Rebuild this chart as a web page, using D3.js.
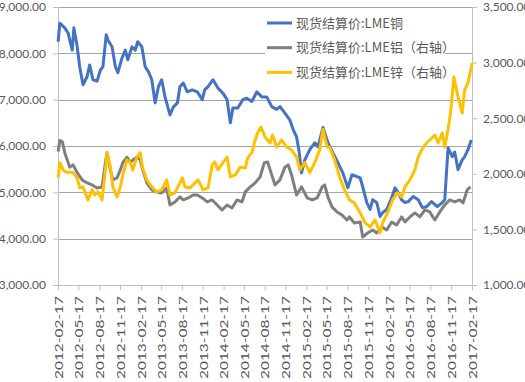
<!DOCTYPE html>
<html>
<meta charset="utf-8">

<!-- Load d3.js -->
<script src="https://d3js.org/d3.v7.min.js"></script>
<style>
  body { margin: 0; background: #fff; }
  text { font-family: Lato, "Noto Sans CJK SC", sans-serif; fill: #595959; }
  .axis text { font-size: 12px; }
  .legend text { font-family: "Noto Sans CJK SC", sans-serif; font-size: 13px; }
</style>
<body>
<!-- Create a div where the graph will take place -->
<div id="my_dataviz"></div>

<script>

// copper, left axis (dates as decimal years)
var copperT = [2012.13,2012.15,2012.21,2012.25,2012.30,2012.32,2012.36,2012.39,2012.43,2012.48,
  2012.51,2012.55,2012.60,2012.64,2012.67,2012.71,2012.73,2012.78,2012.82,2012.85,
  2012.90,2012.94,2012.97,2013.02,2013.06,2013.09,2013.14,2013.18,2013.22,2013.26,
  2013.30,2013.34,2013.38,2013.42,2013.48,2013.52,2013.57,2013.60,2013.64,2013.69,
  2013.75,2013.81,2013.87,2013.90,2013.94,2014.00,2014.06,2014.12,2014.17,2014.21,
  2014.24,2014.30,2014.36,2014.41,2014.47,2014.53,2014.59,2014.65,2014.71,2014.77,
  2014.81,2014.87,2014.93,2014.97,2015.01,2015.04,2015.07,2015.11,2015.17,2015.23,
  2015.27,2015.33,2015.39,2015.45,2015.51,2015.57,2015.63,2015.68,2015.74,2015.78,
  2015.81,2015.86,2015.90,2015.93,2015.98,2016.02,2016.05,2016.10,2016.16,2016.20,
  2016.24,2016.28,2016.32,2016.36,2016.42,2016.48,2016.53,2016.58,2016.64,2016.71,
  2016.77,2016.80,2016.84,2016.89,2016.92,2016.96,2017.01,2017.04,2017.08,2017.12];
var copperV = [8250,8650,8550,8440,8070,8550,8140,7710,7320,7500,
  7750,7430,7400,7640,7710,8400,8290,8140,7710,7580,
  7900,8070,7860,8140,8070,8250,8140,7710,7600,7430,
  6930,7280,7430,7060,6670,6840,6930,7280,7360,7170,
  7210,7170,7000,7210,7280,7430,7250,7140,7000,6500,
  6820,6820,7000,7030,6960,7170,7060,7060,6850,6790,
  6850,6710,6560,6350,6200,5900,5420,5700,5920,6070,
  5980,6400,6070,5850,5640,5420,5100,5380,5340,5310,
  5120,4780,4630,4840,4780,4480,4560,4630,4880,5100,
  4990,4840,4780,4800,4910,4840,4670,4690,4800,4690,
  4780,4840,5960,5770,5870,5490,5700,5770,5920,6130];

// aluminium, right axis
var aluT = [2012.13,2012.15,2012.18,2012.21,2012.27,2012.31,2012.36,2012.42,2012.48,2012.54,
  2012.60,2012.66,2012.70,2012.72,2012.76,2012.79,2012.84,2012.88,2012.91,2012.96,
  2013.00,2013.03,2013.08,2013.12,2013.15,2013.20,2013.26,2013.32,2013.38,2013.44,
  2013.48,2013.54,2013.60,2013.64,2013.70,2013.76,2013.81,2013.87,2013.93,2013.99,
  2014.05,2014.11,2014.17,2014.23,2014.29,2014.35,2014.39,2014.45,2014.51,2014.57,
  2014.62,2014.66,2014.71,2014.75,2014.81,2014.87,2014.91,2014.95,2015.01,2015.07,
  2015.14,2015.20,2015.26,2015.32,2015.35,2015.39,2015.44,2015.50,2015.56,2015.62,
  2015.65,2015.71,2015.78,2015.81,2015.87,2015.93,2015.98,2016.04,2016.10,2016.16,
  2016.22,2016.28,2016.32,2016.38,2016.44,2016.50,2016.56,2016.62,2016.68,2016.74,
  2016.80,2016.86,2016.92,2016.98,2017.02,2017.07,2017.11];
var aluV = [2200,2300,2290,2190,2060,2080,2010,1945,1918,1900,
  1873,1882,2100,2190,2035,1945,1963,2035,2100,2150,
  2100,2125,2150,2125,2035,1918,1855,1837,1828,1873,
  1720,1747,1792,1765,1783,1810,1810,1783,1747,1765,
  1720,1675,1720,1693,1765,1747,1837,1882,1918,1972,
  2100,2107,1990,1900,1945,2060,2080,1990,1810,1882,
  1783,1765,1783,1882,1900,1790,1700,1657,1630,1585,
  1612,1558,1567,1432,1468,1495,1468,1522,1495,1567,
  1540,1612,1567,1612,1648,1612,1675,1657,1585,1657,
  1720,1765,1747,1765,1738,1855,1882];

// zinc, right axis
var zincT = [2012.13,2012.15,2012.19,2012.24,2012.27,2012.31,2012.36,2012.39,2012.43,2012.49,
  2012.54,2012.57,2012.61,2012.66,2012.70,2012.72,2012.76,2012.79,2012.84,2012.88,
  2012.91,2012.96,2013.00,2013.03,2013.08,2013.12,2013.15,2013.20,2013.26,2013.32,
  2013.38,2013.44,2013.48,2013.54,2013.63,2013.66,2013.72,2013.76,2013.82,2013.88,
  2013.94,2013.99,2014.02,2014.06,2014.12,2014.17,2014.21,2014.27,2014.33,2014.39,
  2014.42,2014.47,2014.51,2014.54,2014.58,2014.63,2014.69,2014.72,2014.77,2014.83,
  2014.89,2014.95,2015.01,2015.05,2015.11,2015.17,2015.23,2015.29,2015.33,2015.38,
  2015.41,2015.47,2015.53,2015.59,2015.65,2015.71,2015.78,2015.84,2015.90,2015.96,
  2016.02,2016.05,2016.11,2016.17,2016.23,2016.28,2016.32,2016.38,2016.44,2016.48,
  2016.52,2016.58,2016.62,2016.68,2016.72,2016.77,2016.80,2016.84,2016.87,2016.91,
  2016.96,2017.01,2017.04,2017.08,2017.13];
var zincV = [1963,2100,2035,2010,2017,2010,1963,1873,1882,1765,
  1855,1810,1837,1765,2035,2190,2060,1882,1792,1882,
  1990,2125,2100,2035,2150,2190,2053,1945,1882,1837,
  1855,1945,1810,1828,1963,1882,1873,1900,1945,1855,
  1873,2080,2107,2035,2100,2150,1972,1990,2060,2053,
  2143,2190,2304,2367,2421,2331,2277,2349,2241,2304,
  2241,2214,2150,2035,2100,2010,2100,2214,2400,2241,
  2241,2125,1972,1855,1765,1738,1648,1558,1522,1585,
  1468,1558,1648,1765,1828,1792,1882,1945,2035,2150,
  2214,2277,2304,2349,2277,2367,2241,2400,2550,2870,
  2690,2547,2754,2817,2996];

var tickLabels = ["2012-02-17","2012-05-17","2012-08-17","2012-11-17","2013-02-17","2013-05-17",
  "2013-08-17","2013-11-17","2014-02-17","2014-05-17","2014-08-17","2014-11-17","2015-02-17",
  "2015-05-17","2015-08-17","2015-11-17","2016-02-17","2016-05-17","2016-08-17","2016-11-17",
  "2017-02-17"];
var leftTicks = [3000,4000,5000,6000,7000,8000,9000];
var rightTicks = [1000,1500,2000,2500,3000,3500];
var seriesNames = ["现货结算价:LME铜","现货结算价:LME铝（右轴）","现货结算价:LME锌（右轴）"];
var seriesColors = ["#4472c4","#7f7f7f","#ffc000"];

// set the dimensions and margins of the graph
var margin = {top: 7, right: 53, bottom: 97, left: 58},
    width = 525 - margin.left - margin.right,
    height = 382 - margin.top - margin.bottom;

var svg = d3.select("#my_dataviz")
  .append("svg")
    .attr("width", width + margin.left + margin.right)
    .attr("height", height + margin.top + margin.bottom)
  .append("g")
    .attr("transform", "translate(" + margin.left + "," + margin.top + ")");

var parseDate = d3.timeParse("%Y-%m-%d");

// decimal year -> Date
function yearToDate(t) {
  var y = Math.floor(t);
  var a = new Date(y, 0, 1), b = new Date(y + 1, 0, 1);
  return new Date(+a + (t - y) * (b - a));
}

function zipSeries(ts, vs) {
  return ts.map(function(t, i) { return {date: yearToDate(t), v: vs[i]}; });
}

var tickDates = tickLabels.map(parseDate);

var x = d3.scaleTime()
    .domain([tickDates[0], tickDates[tickDates.length - 1]])
    .range([0, width]);
var yL = d3.scaleLinear().domain([3000, 9000]).range([height, 0]);
var yR = d3.scaleLinear().domain([1000, 3500]).range([height, 0]);

// gridlines
svg.selectAll(".grid")
  .data(leftTicks)
  .enter()
  .append("line")
    .attr("x1", 0)
    .attr("x2", width)
    .attr("y1", function(d) { return Math.round(yL(d)) + 0.5; })
    .attr("y2", function(d) { return Math.round(yL(d)) + 0.5; })
    .style("stroke", "#a6a6a6")
    .style("stroke-width", 1);

// left axis
var gL = svg.append("g")
    .attr("class", "axis")
    .call(d3.axisLeft(yL).tickValues(leftTicks).tickFormat(d3.format(",.2f"))
      .tickSize(5).tickSizeOuter(0).tickPadding(7));

// right axis
var gR = svg.append("g")
    .attr("class", "axis")
    .attr("transform", "translate(" + width + ",0)")
    .call(d3.axisRight(yR).tickValues(rightTicks).tickFormat(d3.format(",.2f"))
      .tickSize(5).tickSizeOuter(0).tickPadding(6));

// bottom axis
var gX = svg.append("g")
    .attr("class", "axis")
    .attr("transform", "translate(0," + height + ")")
    .call(d3.axisBottom(x).tickValues(tickDates).tickFormat(d3.timeFormat("%Y-%m-%d"))
      .tickSize(5).tickSizeOuter(0));
gX.selectAll("text")
    .attr("transform", "rotate(-90)")
    .attr("x", -11)
    .attr("y", 0)
    .attr("dy", "0.35em")
    .attr("textLength", 83)
    .attr("lengthAdjust", "spacingAndGlyphs")
    .style("text-anchor", "end");

[gL, gR, gX].forEach(function(g) {
  g.selectAll("path, line").style("stroke", "#bfbfbf");
});

// series lines
var lineL = d3.line()
    .x(function(d) { return x(d.date); })
    .y(function(d) { return yL(d.v); });
var lineR = d3.line()
    .x(function(d) { return x(d.date); })
    .y(function(d) { return yR(d.v); });

var series = [
  {data: zipSeries(copperT, copperV), line: lineL},
  {data: zipSeries(aluT, aluV), line: lineR},
  {data: zipSeries(zincT, zincV), line: lineR}
];

series.forEach(function(s, i) {
  svg.append("path")
    .datum(s.data)
    .attr("d", s.line)
    .style("fill", "none")
    .style("stroke", seriesColors[i])
    .style("stroke-width", 3)
    .style("stroke-linejoin", "round");
});

// legend
var legend = svg.append("g")
    .attr("class", "legend")
    .attr("transform", "translate(" + (265 - margin.left) + "," + (10 - margin.top) + ")");
legend.append("rect")
    .attr("width", 180)
    .attr("height", 76)
    .style("fill", "#fff");
seriesNames.forEach(function(name, i) {
  var ly = 13 + i * 24.7;
  legend.append("line")
    .attr("x1", 2).attr("x2", 27)
    .attr("y1", ly).attr("y2", ly)
    .style("stroke", seriesColors[i])
    .style("stroke-width", 3);
  legend.append("text")
    .attr("x", 31)
    .attr("y", ly)
    .attr("dy", "0.35em")
    .text(name);
});

</script>
</body>
</html>
